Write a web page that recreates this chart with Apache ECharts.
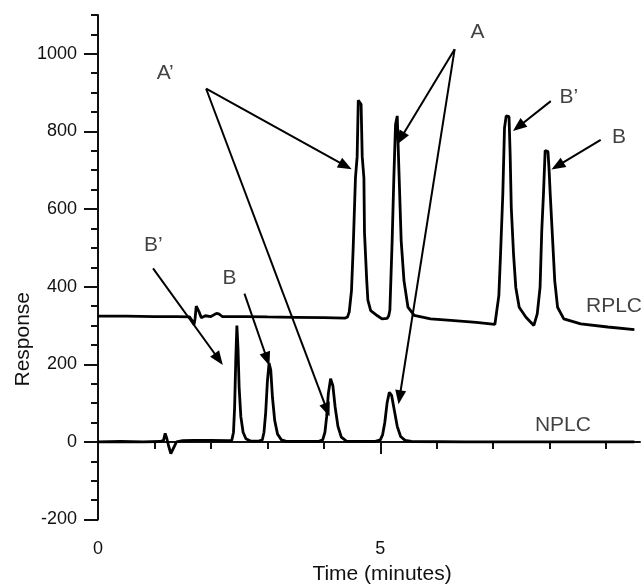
<!DOCTYPE html>
<html>
<head>
<meta charset="utf-8">
<script src="https://cdn.jsdelivr.net/npm/echarts@6/dist/echarts.min.js"></script>
<style>
  html, body { margin: 0; padding: 0; background: #fff; }
  #chart { width: 643px; height: 585px; }
</style>
</head>
<body>
<div id="chart"></div>
<script>
// ---- data ----
const xMinorTicks = [0, 1, 2, 3, 4, 5, 6, 7, 8, 9];
const xMajorTicks = [0, 5];
const yMajorTicks = [-200, 0, 200, 400, 600, 800, 1000];

// NPLC chromatogram [time (min), response]
const nplc = [
  [0,0],[0.4,1],[0.8,0],[1.1,1],[1.16,4],[1.19,22],[1.22,8],[1.25,-10],[1.29,-30],[1.32,-34],
  [1.35,-12],[1.39,0],[1.5,3],[1.7,4],[2.0,4],[2.3,3],[2.37,4],[2.40,25],[2.42,90],[2.44,210],
  [2.46,300],[2.48,240],[2.50,140],[2.53,65],[2.57,25],[2.62,8],[2.70,2],[2.85,2],[2.91,5],[2.94,25],
  [2.97,75],[3.00,155],[3.03,203],[3.06,185],[3.09,115],[3.13,55],[3.18,20],[3.25,5],[3.35,1],[3.9,1],
  [3.98,5],[4.02,25],[4.05,65],[4.08,125],[4.12,163],[4.16,145],[4.20,90],[4.25,40],[4.31,12],[4.40,2],
  [4.9,1],[5.0,5],[5.04,18],[5.08,50],[5.12,100],[5.16,128],[5.20,120],[5.25,80],[5.30,40],[5.36,14],
  [5.44,4],[5.55,1],[6.5,0],[8.0,0],[9.5,0]
];

// RPLC chromatogram [time (min), response]
const rplc = [
  [0,324],[0.5,324],[1.0,323],[1.4,323],[1.62,322],[1.66,314],[1.70,302],[1.72,318],[1.74,350],[1.77,354],
  [1.79,335],[1.83,320],[1.9,325],[2.0,323],[2.06,328],[2.10,331],[2.15,329],[2.2,323],[2.6,323],[3.0,322],
  [3.5,321],[4.0,320],[4.38,319],[4.42,322],[4.45,335],[4.49,390],[4.52,500],[4.56,680],[4.59,735],[4.61,880],
  [4.64,885],[4.66,870],[4.68,735],[4.71,680],[4.72,540],[4.76,415],[4.78,365],[4.83,338],[4.95,325],[5.03,317],
  [5.12,318],[5.15,325],[5.17,340],[5.21,518],[5.24,680],[5.27,818],[5.30,840],[5.32,835],[5.33,700],[5.37,518],
  [5.42,415],[5.49,347],[5.60,326],[5.89,317],[6.25,313],[6.7,308],[7.03,303],[7.06,305],[7.10,377],[7.13,484],
  [7.17,638],[7.20,809],[7.23,840],[7.28,838],[7.30,741],[7.32,604],[7.36,484],[7.40,398],[7.46,347],[7.58,321],
  [7.72,300],[7.78,330],[7.83,398],[7.86,544],[7.89,638],[7.92,751],[7.97,748],[7.99,700],[8.01,638],[8.05,527],
  [8.09,415],[8.14,347],[8.25,317],[8.55,304],[9.03,296],[9.5,289]
];

// annotation arrows: [from, to] in data coordinates
const arrowSegments = [
  [[1.915, 910], [4.385, 711]],
  [[1.915, 910], [4.057, 82]],
  [[6.317, 1012], [5.36, 782]],
  [[6.317, 1012], [5.342, 115]],
  [[8.02, 878], [7.447, 812]],
  [[8.904, 778], [8.138, 711]],
  [[0.975, 447], [2.138, 213]],
  [[2.594, 382], [2.996, 213]]
];

// annotation texts: [time, response, text]
const annotationTexts = [
  [1.19, 949, 'A\u2019'],
  [6.72, 1055, 'A'],
  [8.34, 889, 'B\u2019'],
  [9.23, 786, 'B'],
  [0.98, 508, 'B\u2019'],
  [2.33, 423, 'B'],
  [9.14, 349, 'RPLC'],
  [8.235, 43, 'NPLC']
];

// ---- chart ----
const FONT = '"Liberation Sans", Arial, Helvetica, sans-serif';
const INK = '#111';
const chart = echarts.init(document.getElementById('chart'), null, { renderer: 'canvas' });

const baseX = {
  type: 'value', min: 0, max: 9.6, interval: 1,
  position: 'bottom', splitLine: { show: false }
};
const baseY = {
  type: 'value', min: -200, max: 1100, interval: 50,
  position: 'left', splitLine: { show: false }
};

chart.setOption({
  animation: false,
  backgroundColor: '#fff',
  grid: { left: 98, right: 3, top: 15, bottom: 65.5, containLabel: false, outerBoundsMode: 'none' },
  xAxis: [
    Object.assign({}, baseX, {
      name: 'Time (minutes)', nameLocation: 'middle', nameGap: 44, nameMoveOverlap: false,
      nameTextStyle: { fontFamily: FONT, fontSize: 21, color: INK, padding: [0, 0, 0, 26] },
      axisLine: { show: true, lineStyle: { color: INK, width: 2 } },
      axisTick: { show: true, customValues: xMinorTicks, length: 7, lineStyle: { color: INK, width: 2 } },
      axisLabel: { show: true, customValues: xMajorTicks, margin: 21, fontFamily: FONT, fontSize: 18, color: INK,
                   formatter: v => String(v) }
    }),
    Object.assign({}, baseX, {
      axisLine: { show: false },
      axisTick: { show: true, customValues: xMajorTicks, length: 12, lineStyle: { color: INK, width: 2 } },
      axisLabel: { show: false }
    })
  ],
  yAxis: [
    Object.assign({}, baseY, {
      name: 'Response', nameLocation: 'middle', nameGap: 64, nameRotate: 90, nameMoveOverlap: false,
      nameTextStyle: { fontFamily: FONT, fontSize: 21, color: INK, padding: [0, 144, 0, 0] },
      axisLine: { show: true, lineStyle: { color: INK, width: 2 } },
      axisTick: { show: true, length: 7, lineStyle: { color: INK, width: 2 } },
      axisLabel: { show: true, customValues: yMajorTicks, margin: 21, fontFamily: FONT, fontSize: 18, color: INK,
                   formatter: v => String(v) }
    }),
    Object.assign({}, baseY, {
      axisLine: { show: false },
      axisTick: { show: true, customValues: yMajorTicks, length: 14, lineStyle: { color: INK, width: 2 } },
      axisLabel: { show: false }
    })
  ],
  series: [
    {
      name: 'RPLC', type: 'line', data: rplc, showSymbol: false, symbol: 'none',
      lineStyle: { color: '#000', width: 2.8 }, z: 3
    },
    {
      name: 'NPLC', type: 'line', data: nplc, showSymbol: false, symbol: 'none',
      lineStyle: { color: '#000', width: 2.8 }, z: 3,
      markLine: {
        silent: true, animation: false,
        symbol: ['none', 'triangle'], symbolSize: [11, 14],
        lineStyle: { color: '#000', width: 2, type: 'solid' },
        label: { show: false },
        emphasis: { disabled: true },
        data: arrowSegments.map(s => [{ coord: s[0] }, { coord: s[1] }])
      }
    },
    {
      name: 'labels', type: 'scatter', data: annotationTexts, symbolSize: 1,
      itemStyle: { color: 'rgba(0,0,0,0)' }, silent: true, z: 5,
      label: {
        show: true, position: 'inside', formatter: p => p.value[2],
        fontFamily: FONT, fontSize: 21, color: INK
      }
    }
  ]
});
</script>
</body>
</html>
